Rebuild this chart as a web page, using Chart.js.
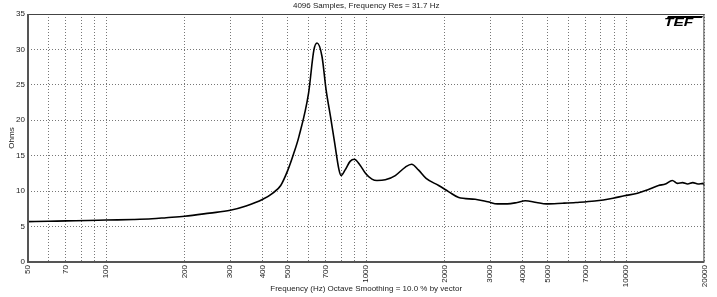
<!DOCTYPE html>
<html>
<head>
<meta charset="utf-8">
<script src="https://cdn.jsdelivr.net/npm/chart.js@4/dist/chart.umd.min.js"></script>
<style>
  html, body { margin:0; padding:0; background:#fff; }
  #wrap { width:717px; height:297px; }
</style>
</head>
<body>
<div id="wrap"><canvas id="impChart" width="717" height="297"></canvas></div>
<script>
// frequency points (Hz) and impedance (ohms)
var freqs = [50, 60, 70, 85, 100, 127, 150, 170, 200, 250, 300, 345, 400, 436, 469, 500, 525,
    551, 600, 629, 647, 676, 701, 729, 757, 786, 801, 830, 867, 900, 946, 995,
    1052, 1100, 1184, 1294, 1415, 1495, 1588, 1700, 1900, 2080, 2270, 2625, 2935,
    3200, 3490, 3810, 4090, 4520, 4930, 5690, 6410, 7570, 8900, 9835, 11060, 12120,
    13320, 14160, 15050, 15750, 16480, 17240, 18050, 18900, 19800, 20000];
var ohms = [5.70, 5.75, 5.80, 5.85, 5.92, 6.0, 6.1, 6.25, 6.45, 6.9, 7.3, 7.9, 8.85, 9.7, 10.8, 13.0, 15.2,
    17.7, 23.8, 29.9, 30.9, 29.0, 24.3, 20.5, 16.7, 13.0, 12.2, 13.0, 14.2, 14.5, 13.7, 12.5,
    11.7, 11.5, 11.6, 12.2, 13.4, 13.8, 13.0, 11.8, 10.8, 9.9, 9.1, 8.85, 8.5,
    8.2, 8.2, 8.4, 8.65, 8.4, 8.2, 8.3, 8.4, 8.6, 9.0, 9.35, 9.7, 10.2,
    10.8, 11.0, 11.5, 11.1, 11.2, 11.0, 11.2, 11.0, 11.1, 10.8];

var gridFreqs = [50, 60, 70, 80, 90, 100, 200, 300, 400, 500, 600, 700, 800, 900,
    1000, 2000, 3000, 4000, 5000, 6000, 7000, 8000, 9000, 10000, 20000];
var labelFreqs = [50, 70, 100, 200, 300, 400, 500, 700, 1000, 2000, 3000, 4000, 5000, 7000, 10000, 20000];

var chartTitle = "4096 Samples, Frequency Res = 31.7 Hz";
var xTitle = "Frequency (Hz) Octave Smoothing = 10.0 % by vector";
var yTitle = "Ohms";

var points = [];
for (var i = 0; i < freqs.length; i++) {
    points.push({x: freqs[i], y: ohms[i]});
}

var fontFam = "'Liberation Sans', Arial, sans-serif";
var gridCol = '#777';

// title, frame, solid axes and TEF logo
var extras = {
    id: 'extras',
    afterDraw: function(chart) {
        var ctx = chart.ctx, a = chart.chartArea;
        ctx.save();
        ctx.strokeStyle = '#444';
        ctx.lineWidth = 1;
        ctx.strokeRect(a.left + 0.5, a.top + 0.5, a.right - a.left - 1, a.bottom - a.top - 1);
        ctx.strokeStyle = '#555';
        ctx.lineWidth = 2;
        ctx.beginPath();
        ctx.moveTo(a.left, a.top); ctx.lineTo(a.left, a.bottom); ctx.lineTo(a.right, a.bottom);
        ctx.stroke();
        ctx.fillStyle = '#222';
        ctx.font = '8px ' + fontFam;
        ctx.textAlign = 'center';
        ctx.textBaseline = 'middle';
        ctx.fillText(chartTitle, (a.left + a.right) / 2, 6);
        // logo
        ctx.fillStyle = '#000';
        ctx.beginPath();
        ctx.moveTo(668, 16); ctx.lineTo(703, 16); ctx.lineTo(702, 18); ctx.lineTo(667, 18);
        ctx.closePath(); ctx.fill();
        ctx.translate(664, 26);
        ctx.scale(1.55, 1);
        ctx.font = 'italic bold 10px ' + fontFam;
        ctx.textAlign = 'left';
        ctx.textBaseline = 'alphabetic';
        ctx.fillText('TEF', 0, 0);
        ctx.restore();
    }
};

var impChart = new Chart(document.getElementById('impChart'), {
    type: 'line',
    data: {
        datasets: [{
            label: 'Impedance',
            data: points,
            borderColor: '#000',
            borderWidth: 1.6,
            pointRadius: 0,
            fill: false,
            cubicInterpolationMode: 'monotone'
        }]
    },
    options: {
        responsive: false,
        animation: false,
        layout: { padding: { top: 14, right: 10, left: 0, bottom: 0 } },
        plugins: { legend: { display: false }, tooltip: { enabled: false } },
        scales: {
            x: {
                type: 'logarithmic',
                min: 50,
                max: 20000,
                afterBuildTicks: function(scale) {
                    scale.ticks = gridFreqs.map(function(v){ return {value: v}; });
                },
                afterFit: function(scale) { scale.height = 35; },
                ticks: {
                    autoSkip: false,
                    minRotation: 90,
                    maxRotation: 90,
                    padding: 3,
                    color: '#222',
                    font: { size: 8, family: fontFam },
                    callback: function(v) {
                        return labelFreqs.indexOf(v) >= 0 ? String(v) : '';
                    }
                },
                grid: { color: gridCol, tickLength: 0 },
                border: { display: false, dash: [1, 2] },
                title: {
                    display: true,
                    text: xTitle,
                    color: '#222',
                    font: { size: 8, family: fontFam },
                    padding: { top: 0, bottom: 3 }
                }
            },
            y: {
                min: 0,
                max: 35,
                afterFit: function(scale) { scale.width = 28; },
                ticks: {
                    stepSize: 5,
                    padding: 3,
                    color: '#222',
                    font: { size: 8, family: fontFam }
                },
                grid: { color: gridCol, tickLength: 0 },
                border: { display: false, dash: [1, 2] },
                title: {
                    display: true,
                    text: yTitle,
                    color: '#222',
                    font: { size: 8, family: fontFam },
                    padding: { top: 7, bottom: 0 }
                }
            }
        }
    },
    plugins: [extras]
});
</script>
</body>
</html>
